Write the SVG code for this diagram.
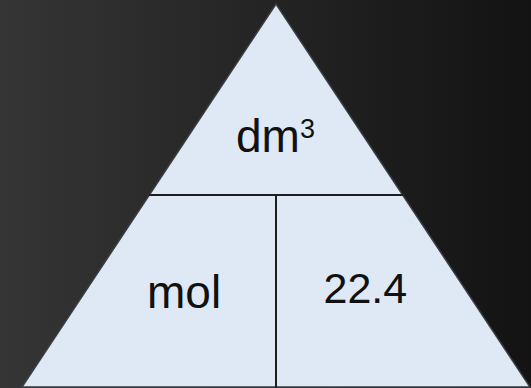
<svg xmlns="http://www.w3.org/2000/svg" width="531" height="388" viewBox="0 0 531 388">
  <defs>
    <linearGradient id="bg" x1="0" y1="0" x2="1" y2="0">
      <stop offset="0" stop-color="#353535"/>
      <stop offset="1" stop-color="#131313"/>
    </linearGradient>
  </defs>
  <style>
    .lbl { font-family: "Liberation Sans", Arial, sans-serif; fill: #111111; }
    .div { stroke: #1e1e1e; stroke-width: 2; fill: none; }
  </style>
  <rect x="0" y="0" width="531" height="388" fill="url(#bg)"/>
  <g id="triangle">
    <polygon points="276,4 22,387 530,387" fill="#dee9f5" stroke="#3a3d42" stroke-width="1.5" stroke-linejoin="miter"/>
  </g>
  <g id="connectors">
    <line class="div" x1="149" y1="195" x2="403" y2="195"/>
    <line class="div" x1="276" y1="195" x2="276" y2="388"/>
  </g>
  <g id="node-volume">
    <text class="lbl" x="236" y="152" font-size="46">dm</text>
    <text class="lbl" x="300" y="138" font-size="27">3</text>
  </g>
  <g id="node-mol">
    <text class="lbl" x="147" y="308" font-size="46">mol</text>
  </g>
  <g id="node-molar-volume">
    <text class="lbl" x="323.5" y="303" font-size="43">22.4</text>
  </g>
</svg>
